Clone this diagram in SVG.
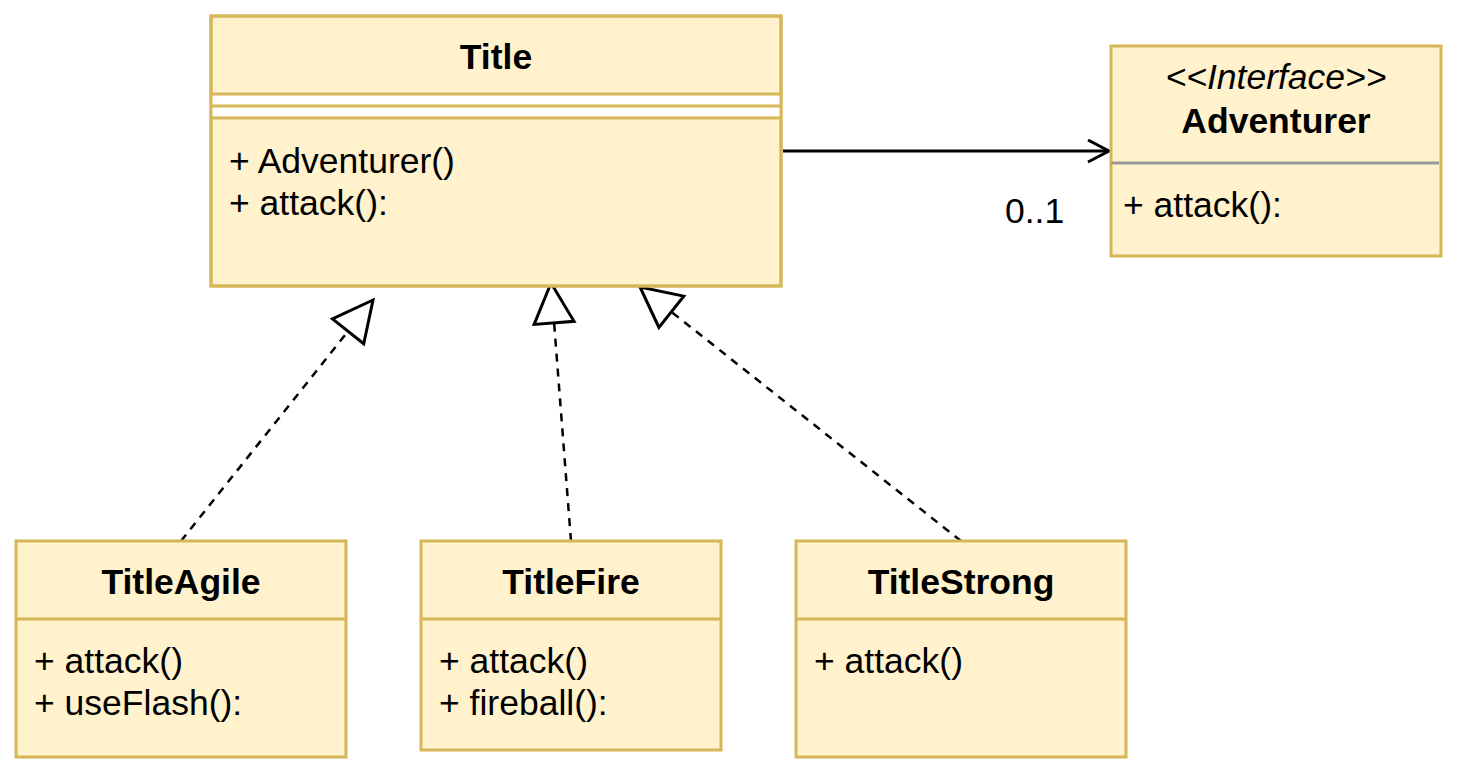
<svg xmlns="http://www.w3.org/2000/svg" width="1458" height="783" viewBox="0 0 1458 783">
<style>
.box{fill:#fff2cc;stroke:#d6b656;stroke-width:3}
.sep{stroke:#d6b656;stroke-width:3}
.t{font-family:"Liberation Sans",Arial,sans-serif;font-size:35.5px;fill:#000}
.b{font-weight:bold;text-anchor:middle}
.i{font-style:italic;text-anchor:middle}
.dash{fill:none;stroke:#000;stroke-width:2.5;stroke-dasharray:8 7}
.solid{fill:none;stroke:#000;stroke-width:3}
</style>
<defs>
<marker id="tri" markerUnits="userSpaceOnUse" markerWidth="50" markerHeight="50" refX="42" refY="22" orient="auto" overflow="visible">
<path d="M2,2 L42,22 L2,42 Z" fill="#fff" stroke="#000" stroke-width="3"/>
</marker>
<marker id="open" markerUnits="userSpaceOnUse" markerWidth="30" markerHeight="30" refX="22" refY="12" orient="auto" overflow="visible">
<path d="M1,1 L22,12 L1,23" fill="none" stroke="#000" stroke-width="3"/>
</marker>
</defs>
<g id="connectors">
<line class="dash" x1="181" y1="541" x2="373" y2="300" marker-end="url(#tri)"/>
<line class="dash" x1="571" y1="541" x2="551" y2="283" marker-end="url(#tri)"/>
<line class="dash" x1="961" y1="541" x2="640" y2="287" marker-end="url(#tri)"/>
<line class="solid" x1="783" y1="151" x2="1109" y2="151" marker-end="url(#open)"/>
<text class="t" x="1005" y="223">0..1</text>
</g>
<g id="Title">
<rect class="box" x="211" y="16" width="570" height="270"/>
<rect x="211" y="94" width="570" height="24" fill="#fff" stroke="none"/>
<line class="sep" x1="211" y1="94" x2="781" y2="94"/>
<line class="sep" x1="211" y1="106" x2="781" y2="106"/>
<line class="sep" x1="211" y1="118" x2="781" y2="118"/>
<rect x="211" y="16" width="570" height="270" fill="none" stroke="#d6b656" stroke-width="3"/>
<text class="t b" x="496" y="69">Title</text>
<text class="t" x="229" y="173">+ Adventurer()</text>
<text class="t" x="229" y="215">+ attack():</text>
</g>
<g id="Adventurer">
<rect class="box" x="1111" y="46" width="330" height="210"/>
<line x1="1111" y1="163" x2="1439" y2="163" stroke="#999" stroke-width="3"/>
<text class="t i" x="1276" y="89">&lt;&lt;Interface&gt;&gt;</text>
<text class="t b" x="1276" y="133">Adventurer</text>
<text class="t" x="1123" y="217">+ attack():</text>
</g>
<g id="TitleAgile">
<rect class="box" x="16" y="541" width="330" height="216"/>
<line class="sep" x1="16" y1="619" x2="346" y2="619"/>
<text class="t b" x="181" y="594">TitleAgile</text>
<text class="t" x="34" y="673">+ attack()</text>
<text class="t" x="34" y="715">+ useFlash():</text>
</g>
<g id="TitleFire">
<rect class="box" x="421" y="541" width="300" height="209"/>
<line class="sep" x1="421" y1="619" x2="721" y2="619"/>
<text class="t b" x="571" y="594">TitleFire</text>
<text class="t" x="439" y="673">+ attack()</text>
<text class="t" x="439" y="715">+ fireball():</text>
</g>
<g id="TitleStrong">
<rect class="box" x="796" y="541" width="330" height="216"/>
<line class="sep" x1="796" y1="619" x2="1126" y2="619"/>
<text class="t b" x="961" y="594">TitleStrong</text>
<text class="t" x="814" y="673">+ attack()</text>
</g>
</svg>
